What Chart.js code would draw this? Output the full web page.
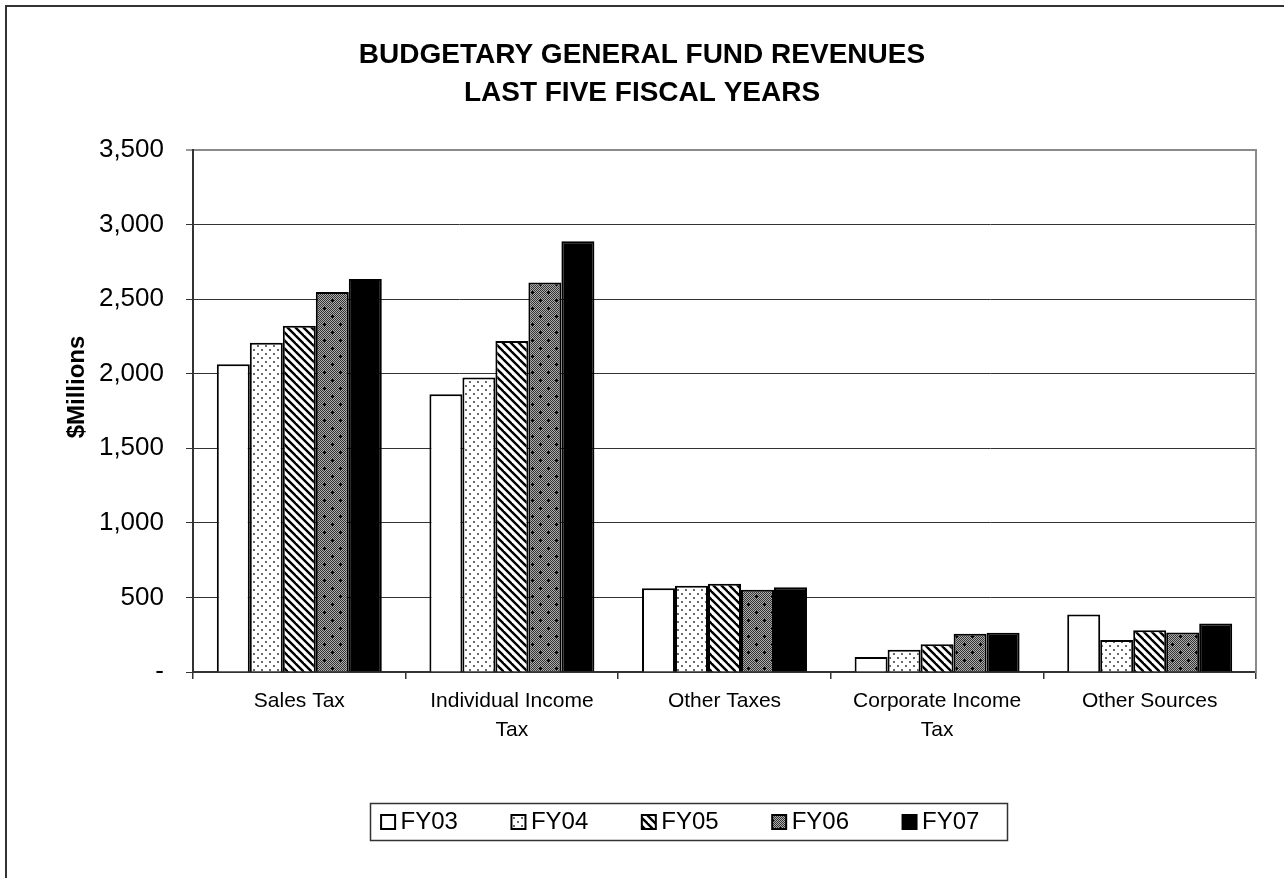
<!DOCTYPE html>
<html>
<head>
<meta charset="utf-8">
<script src="https://cdn.jsdelivr.net/npm/chart.js@4.4.0/dist/chart.umd.min.js"></script>
<style>
  html, body { margin: 0; padding: 0; background: #fff; }
  canvas { display: block; }
</style>
</head>
<body>
<canvas id="chart" width="1284" height="878"></canvas>
<script>
// Revenue categories (multi-line labels are arrays)
const categories = ['Sales Tax', ['Individual Income', 'Tax'], 'Other Taxes', ['Corporate Income', 'Tax'], 'Other Sources'];

// Fiscal year series, $ millions
const seriesNames = ['FY03', 'FY04', 'FY05', 'FY06', 'FY07'];
const fy03 = [2063, 1862, 562, 100, 385];
const fy04 = [2208, 1975, 578, 150, 215];
const fy05 = [2322, 2220, 592, 186, 280];
const fy06 = [2548, 2612, 552, 256, 265];
const fy07 = [2635, 2888, 568, 263, 325];

// Value axis
const yTickValues = [0, 500, 1000, 1500, 2000, 2500, 3000, 3500];
const yTickLabels = ['-', '500', '1,000', '1,500', '2,000', '2,500', '3,000', '3,500'];
const yAxisTitle = '$Millions';

const FONT = "'Liberation Sans', Arial, Helvetica, sans-serif";

// ---- fill patterns for the bars ----
function makePattern(size, paint) {
  const c = document.createElement('canvas');
  c.width = c.height = size;
  const g = c.getContext('2d');
  paint(g, size);
  return g.createPattern(c, 'repeat');
}

const solidWhite = '#ffffff';

const dotted = makePattern(8, (g, s) => {
  g.fillStyle = '#fff';
  g.fillRect(0, 0, s, s);
  g.fillStyle = '#6a6a6a';
  g.fillRect(1, 1, 2, 2);
  g.fillRect(5, 5, 2, 2);
});

const hatched = makePattern(8, (g, s) => {
  g.fillStyle = '#fff';
  g.fillRect(0, 0, s, s);
  g.strokeStyle = '#000';
  g.lineWidth = 2.4;
  for (const x0 of [-s, 0, s]) {
    g.beginPath();
    g.moveTo(x0 - 1, -1);
    g.lineTo(x0 + s + 1, s + 1);
    g.stroke();
  }
});

const speckled = makePattern(16, (g, s) => {
  for (let y = 0; y < s; y++) {
    for (let x = 0; x < s; x++) {
      g.fillStyle = (x + y) % 2 === 0 ? '#333333' : '#adadad';
      g.fillRect(x, y, 1, 1);
    }
  }
  g.fillStyle = '#000';
  const plus = (cx, cy) => {
    g.fillRect(cx - 1, cy, 3, 1);
    g.fillRect(cx, cy - 1, 1, 3);
  };
  plus(4, 4);
  plus(12, 12);
});

const solidBlack = '#000000';

const fills = [solidWhite, dotted, hatched, speckled, solidBlack];
const seriesValues = [fy03, fy04, fy05, fy06, fy07];

const datasets = seriesNames.map((name, i) => ({
  label: name,
  data: seriesValues[i],
  backgroundColor: fills[i],
  borderColor: '#000',
  borderWidth: 2,
  categoryPercentage: 0.776,
  barPercentage: 1.0,
  yAxisID: 'y'
}));

// White page with the outer frame of the chart object
const pageFrame = {
  id: 'pageFrame',
  beforeDraw(chart) {
    const ctx = chart.ctx;
    ctx.save();
    ctx.fillStyle = '#fff';
    ctx.fillRect(0, 0, chart.width, chart.height);
    ctx.strokeStyle = '#333';
    ctx.lineWidth = 2;
    ctx.strokeRect(6, 6, chart.width + 40, chart.height + 40);
    ctx.restore();
  }
};

// Rotated value-axis title, sitting a little above the plot's midline
const valueAxisTitle = {
  id: 'valueAxisTitle',
  afterDraw(chart) {
    const y = chart.scales.y;
    const ctx = chart.ctx;
    ctx.save();
    ctx.translate(y.left + 77, (y.top + y.bottom) / 2 - 24);
    ctx.rotate(-Math.PI / 2);
    ctx.fillStyle = '#000';
    ctx.font = 'bold 24px ' + FONT;
    ctx.textAlign = 'center';
    ctx.textBaseline = 'middle';
    ctx.fillText(yAxisTitle, 0, 0);
    ctx.restore();
  }
};

// Nudge the legend row and draw a box around it
const legendBox = {
  id: 'legendBox',
  afterLayout(chart) {
    const L = chart.legend;
    L.left += 41.5;
    L.right += 41.5;
  },
  afterDraw(chart) {
    const L = chart.legend;
    const pad = L.options.labels.padding;
    const fontSize = L.options.labels.font.size;
    const x0 = (L.left + pad + L.right - L.lineWidths[0]) / 2;
    const cy = L.top + pad + fontSize / 2;
    const ctx = chart.ctx;
    ctx.save();
    ctx.strokeStyle = '#333';
    ctx.lineWidth = 1.5;
    ctx.strokeRect(Math.round(x0 - 17.5) + 0.5, Math.round(cy - 19) + 0.5, 637, 37);
    ctx.restore();
  }
};

new Chart(document.getElementById('chart'), {
  type: 'bar',
  data: { labels: categories, datasets },
  plugins: [pageFrame, valueAxisTitle, legendBox],
  options: {
    responsive: false,
    animation: false,
    devicePixelRatio: 1,
    layout: { padding: { left: 0, right: 0, top: 0, bottom: 34 } },
    plugins: {
      title: {
        display: true,
        text: ['BUDGETARY GENERAL FUND REVENUES', 'LAST FIVE FISCAL YEARS'],
        color: '#000',
        font: { family: FONT, size: 28, weight: 'bold', lineHeight: 1.375 },
        padding: { top: 35.75, bottom: 37.25 }
      },
      legend: {
        display: true,
        position: 'bottom',
        labels: {
          color: '#000',
          font: { family: FONT, size: 24 },
          usePointStyle: true,
          pointStyle: 'rect',
          boxWidth: 1,
          boxHeight: 14,
          padding: 60
        }
      },
      tooltip: { enabled: false }
    },
    scales: {
      x: {
        grid: {
          display: true,
          drawOnChartArea: false,
          drawTicks: true,
          tickLength: 7,
          color: '#333',
          lineWidth: 1.5,
          offset: true
        },
        border: { display: true, color: '#333', width: 2 },
        ticks: {
          color: '#000',
          font: { family: FONT, size: 21, lineHeight: 1.38 },
          padding: 8,
          maxRotation: 0,
          autoSkip: false
        },
        afterFit(scale) { scale.height = 78; }
      },
      y: {
        position: 'left',
        min: 0,
        max: 3500,
        afterBuildTicks(scale) {
          scale.ticks = yTickValues.map(v => ({ value: v }));
        },
        ticks: {
          color: '#000',
          font: { family: FONT, size: 26 },
          padding: 22,
          callback(value) {
            const i = yTickValues.indexOf(value);
            return i >= 0 ? yTickLabels[i] : '';
          }
        },
        grid: {
          color: ctx => (ctx.tick && ctx.tick.value === 3500) ? '#8a8a8a' : '#333',
          lineWidth: ctx => (ctx.tick && ctx.tick.value === 3500) ? 2 : 1,
          tickLength: 7,
          tickColor: '#333',
          tickWidth: 1
        },
        border: { display: true, color: '#333', width: 2 },
        title: { display: false },
        afterFit(scale) { scale.width = 193; }
      },
      yRight: {
        position: 'right',
        min: 0,
        max: 1,
        ticks: { display: false },
        grid: { display: false, drawTicks: false },
        border: { display: true, color: '#8a8a8a', width: 2 },
        afterFit(scale) { scale.width = 28; }
      }
    }
  }
});
</script>
</body>
</html>
